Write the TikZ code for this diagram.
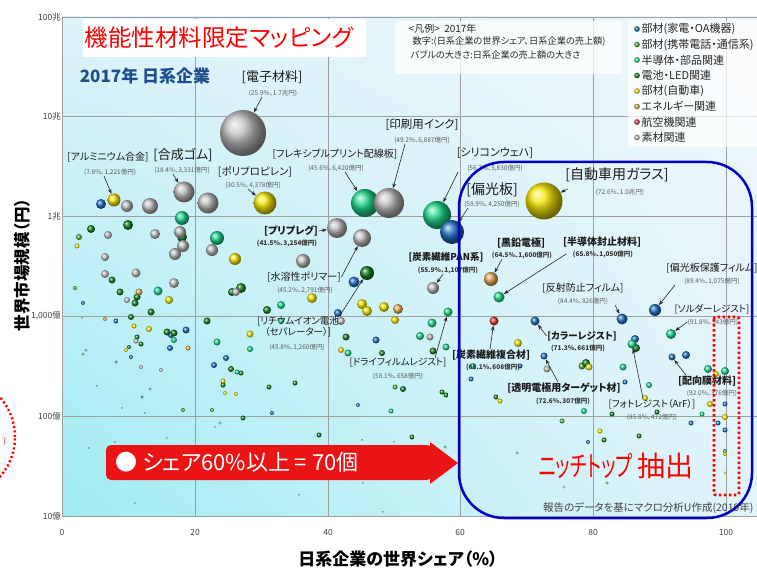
\documentclass[tikz,border=0pt]{standalone}
\usepackage{fontspec}
\setmainfont{Noto Sans CJK JP}[RawFeature=+palt]
\usetikzlibrary{arrows.meta,shadings}

\definecolor{kaden}{RGB}{30,110,190}
\definecolor{keitai}{RGB}{70,185,60}
\definecolor{handou}{RGB}{30,215,140}
\definecolor{denchi}{RGB}{20,125,30}
\definecolor{jidou}{RGB}{245,230,0}
\definecolor{energy}{RGB}{225,170,85}
\definecolor{koukuu}{RGB}{230,50,50}
\definecolor{sozai}{RGB}{190,190,190}
\definecolor{nicheblue}{RGB}{0,0,200}
\definecolor{arrowred}{RGB}{235,20,20}
\definecolor{yearblue}{RGB}{31,78,140}
\definecolor{bgll}{RGB}{160,236,243}
\definecolor{bgul}{RGB}{222,242,250}
\definecolor{bglr}{RGB}{226,244,250}
\definecolor{bgur}{RGB}{238,247,252}

\tikzset{
  lab/.style={inner sep=0.5pt, text=black!90, font=\fontsize{#1}{#1}\selectfont},
  labb/.style={inner sep=0.5pt, text=black!90, font=\fontsize{#1}{#1}\selectfont\bfseries},
  num/.style={inner sep=0.5pt, text=black!65, font=\fontsize{6.5}{7}\selectfont},
  numb/.style={inner sep=0.5pt, text=black!80, font=\fontsize{6.5}{7}\selectfont\bfseries},
  arr/.style={-{Stealth[length=5pt,width=3.6pt]}, line width=0.6pt, black!85},
  bub/.style={circle, inner sep=0pt, minimum size=#1},
  grid line/.style={gray!75, line width=0.7pt},
  tick label/.style={inner sep=1pt, fill=white, text=black!75, font=\fontsize{8.5}{9}\selectfont},
  legend text/.style={inner sep=0.5pt, text=black!85, font=\fontsize{11}{11}\selectfont}
}

\begin{document}
\begin{tikzpicture}[x=1pt,y=-1pt]
\useasboundingbox (0,0) rectangle (757,569);
\fill[white] (0,0) rectangle (757,569);

% plot area
\shade[upper left=bgul, upper right=bgur, lower left=bgll, lower right=bglr] (62,17) rectangle (757,516);
\foreach \gx in {62,195,328,460,593,726}
  \draw[grid line] (\gx,17) -- (\gx,516);
\foreach \gy in {17,116,216,316,416,516}
  \draw[grid line] (62,\gy) -- (757,\gy);
\foreach \gy/\lab in {17/100兆,116/10兆,216/1兆,316/{1,000億},416/100億,516/10億}
  \node[tick label, anchor=east] (yt\gy) at (62,\gy) {\lab};
\foreach \gx/\lab in {62/0,195/20,328/40,460/60,593/80,726/100}
  \node[tick label, fill=none] (xt\gx) at (\gx,532) {\lab};
\node[rotate=90, font=\bfseries\fontsize{16.5}{17}\selectfont] (ytitle) at (22,265) {世界市場規模（円）};
\node[font=\bfseries\fontsize{17}{17}\selectfont] (xtitle) at (398,559) {日系企業の世界シェア（\%）};

% small bubbles
\foreach \x/\y/\r in {83/303/2,116/321/2.5,171/335/3,186/330/3.5,170/348/3,131/357/2,142/397/1.5,226/358/3,214/365/3,101/204/5,354/282/5.5,338/313/4,376/340/3.5,272/413/2,358/405/2,471/379/2.5,520/366/2.5,635/339/4,625/382/2.5,686/355/4,691/423/2.5,725/404/2.5,718/423/2.5,725/430/2.5,588/442/2}
  \shade[ball color=kaden] (\x,\y) circle[radius=\r pt];
\foreach \x/\y/\r in {79/237/3,75/288/2,86/350/1.5,83/354/1.5,150/389/1.5,183/410/2,212/410/2,562/421/2.5,517/453/1.5,607/483/1.5,725/451/2,582/366/3.5,395/387/2.5,97/386/1,122/408/1,145/413/1,142/398/1,167/438/1,115/442/1,89/448/1,135/503/1,299/495/1,362/440/1,363/483/1,383/512/1,394/442/1,445/447/1.5,215/427/1}
  \shade[ball color=keitai] (\x,\y) circle[radius=\r pt];
\foreach \x/\y/\r in {182/218/7,217/238/7,158/291/4.5,174/340/3,281/305/4,281/321/3,250/349/3,217/342/3.5,237/372/2.5,420/336/4,432/323/4.5,446/347/3.5,348/353/3.5,473/366/3,649/385/3,708/369/4,725/371/4,584/411/3,702/414/2.5,391/411/2.5,220/423/1.5,623/367/3.5}
  \shade[ball color=handou] (\x,\y) circle[radius=\r pt];
\foreach \x/\y/\r in {91/229/4,128/225/5,182/237/5,112/280/3.5,120/292/3.5,137/297/3.5,135/303/3.5,151/312/3.5,131/317/3,167/332/3.5,174/333/3.5,137/337/2.5,141/344/2.5,129/347/2,116/362/1.5,207/321/3.5,241/288/5,232/292/4,231/369/3,241/373/2.5,223/385/2.5,267/310/4,346/337/3.5,382/353/3,403/389/3,433/351/3.5,636/348/4,586/363/4,496/397/2.5,612/414/2.5,657/412/2.5,639/436/2.5,604/440/2.5,269/387/2.5,295/383/2.5,243/418/2.5,319/435/2.5,412/437/2.5,442/392/2.5,446/395/2.5}
  \shade[ball color=denchi] (\x,\y) circle[radius=\r pt];
\foreach \x/\y/\r in {77/246/2.5,169/300/4,134/326/2.5,149/329/3,126/350/2,235/259/6,250/334/3.5,223/381/2.5,225/393/2,236/394/2,312/298/5,362/304/5,367/311/5,384/307/5,395/320/4,341/350/3,518/343/4,589/367/3.5,500/401/2.5,600/431/2.5,710/404/3,716/374/3,725/417/3,725/454/2,725/473/1.5,645/398/3}
  \shade[ball color=jidou] (\x,\y) circle[radius=\r pt];
\foreach \x/\y/\r in {139/292/3.5,105/319/2,188/348/2.5,398/309/5}
  \shade[ball color=energy] (\x,\y) circle[radius=\r pt];
\foreach \x/\y/\r in {127/206/6,150/206/8,208/203/10.5,180/232/6,183/246/6,175/254/6,155/234/5,108/235/4,105/257/4,105/274/4,136/273/4.5,127/300/3,174/283/5,136/341/2.5,141/367/2,161/370/2,212/250/6,303/261/7,236/292/4,341/321/4,430/337/3.5,547/369/3.5,564/487/1.5,82/318/1}
  \shade[ball color=sozai] (\x,\y) circle[radius=\r pt];

% labelled bubbles
\node[bub=46pt, ball color=sozai] (b-denshi) at (243,133) {};
\node[bub=13pt, ball color=jidou] (b-alumi) at (114,200) {};
\node[bub=21pt, ball color=sozai] (b-gomu) at (184,192) {};
\node[bub=23pt, ball color=jidou] (b-pp) at (265,203) {};
\node[bub=28pt, ball color=handou] (b-flex) at (365,203) {};
\node[bub=30pt, ball color=sozai] (b-ink) at (389,203) {};
\node[bub=28pt, ball color=handou] (b-si) at (437,215) {};
\node[bub=24pt, ball color=kaden] (b-henkou) at (452,232) {};
\node[bub=37pt, ball color=jidou] (b-glass) at (544,201) {};
\node[bub=20pt, ball color=sozai] (b-prepreg) at (337,228) {};
\node[bub=18pt, ball color=sozai] (b-suiyou) at (362,238) {};
\node[bub=14pt, ball color=denchi] (b-li) at (367,273) {};
\node[bub=12pt, ball color=sozai] (b-pan) at (433,288) {};
\node[bub=9pt, ball color=handou] (b-dry) at (448,312) {};
\node[bub=14pt, ball color=energy] (b-kokuen) at (491,279) {};
\node[bub=11pt, ball color=handou] (b-fushi) at (499,297) {};
\node[bub=11pt, ball color=kaden] (b-hansha) at (622,319) {};
\node[bub=12pt, ball color=kaden] (b-hogo) at (655,310) {};
\node[bub=10pt, ball color=handou] (b-solder) at (671,334) {};
\node[bub=9pt, ball color=koukuu] (b-fukugou) at (494,321) {};
\node[bub=9pt, ball color=kaden] (b-color) at (535,321) {};
\node[bub=7pt, ball color=kaden] (b-touden) at (544,356) {};
\node[bub=9pt, ball color=handou] (b-photo) at (632,344) {};
\node[bub=7pt, ball color=kaden] (b-haikou) at (672,357) {};

% labels
\node[lab=13] (denshi) at (272,77) {[電子材料]};
\node[num] (denshi-n) at (273,93) {(25.9\%、1.7兆円)};
\node[lab=10] (alumi) at (108,157) {[アルミニウム合金]};
\node[num] (alumi-n) at (110,172) {(7.8\%、1,221億円)};
\node[lab=13] (gomu) at (183,155) {[合成ゴム]};
\node[num] (gomu-n) at (182,170) {(18.4\%、3,331億円)};
\node[lab=10.5] (pp) at (255,172) {[ポリプロピレン]};
\node[num] (pp-n) at (253,185) {(30.5\%、4,378億円)};
\node[lab=10] (flex) at (335,154) {[フレキシブルプリント配線板]};
\node[num] (flex-n) at (336,168) {(45.6\%、6,420億円)};
\node[lab=11.5] (ink) at (422,125) {[印刷用インク]};
\node[num] (ink-n) at (422,140) {(49.2\%、6,887億円)};
\node[lab=11] (si) at (495,153) {[シリコンウェハ]};
\node[num] (si-n) at (495,168) {(56.7\%、5,830億円)};
\node[lab=14] (henkou) at (492,190) {[偏光板]};
\node[num] (henkou-n) at (492,204) {(58.9\%、4,250億円)};
\node[lab=14] (glass) at (617,175) {[自動車用ガラス]};
\node[num] (glass-n) at (620,192) {(72.6\%、1.0兆円)};
\node[labb=10] (prepreg) at (291,231) {[プリプレグ]};
\node[numb] (prepreg-n) at (287,243) {(41.5\%、3,254億円)};
\node[lab=10] (suiyou) at (304,277) {[水溶性ポリマー]};
\node[num] (suiyou-n) at (305,290) {(45.2\%、2,791億円)};
\node[lab=9.5, align=center] (li) at (298,327) {[リチウムイオン電池\\（セパレーター）]};
\node[num] (li-n) at (297,347) {(45.8\%、1,260億円)};
\node[labb=9.5] (pan) at (446,257) {[炭素繊維PAN系]};
\node[numb] (pan-n) at (448,270) {(55.9\%、1,107億円)};
\node[lab=9.5] (dry) at (398,363) {[ドライフィルムレジスト]};
\node[num] (dry-n) at (398,376) {(58.1\%、658億円)};
\node[labb=10] (kokuen) at (521,243) {[黒鉛電極]};
\node[numb] (kokuen-n) at (522,255) {(64.5\%、1,600億円)};
\node[labb=10] (fushi) at (602,242) {[半導体封止材料]};
\node[numb] (fushi-n) at (603,254) {(65.8\%、1,050億円)};
\node[lab=10] (hansha) at (583,288) {[反射防止フィルム]};
\node[num] (hansha-n) at (583,301) {(84.4\%、826億円)};
\node[lab=10] (hogo) at (712,268) {[偏光板保護フィルム]};
\node[num] (hogo-n) at (712,281) {(89.4\%、1,075億円)};
\node[lab=9.5] (solder) at (712,309) {[ソルダーレジスト]};
\node[num] (solder-n) at (713,322) {(91.8\%、543億円)};
\node[labb=10] (fukugou) at (491,355) {[炭素繊維複合材]};
\node[numb] (fukugou-n) at (493,367) {(65.1\%、608億円)};
\node[labb=9.5] (color) at (582,336) {[カラーレジスト]};
\node[numb] (color-n) at (578,348) {(71.3\%、661億円)};
\node[labb=10] (touden) at (564,388) {[透明電極用ターゲット材]};
\node[numb] (touden-n) at (563,401) {(72.6\%、307億円)};
\node[lab=9.5] (photo) at (652,404) {[フォトレジスト（ArF）]};
\node[num] (photo-n) at (652,417) {(85.8\%、472億円)};
\node[labb=10] (haikou) at (707,381) {[配向膜材料]};
\node[num] (haikou-n) at (712,393) {(92.0\%、376億円)};

% arrows
\draw[arr] ([xshift=-11pt]denshi-n.south) -- (b-denshi);
\draw[arr] ([xshift=-6pt]alumi-n.south) -- (b-alumi);
\draw[arr] ([xshift=-9pt]gomu-n.south) -- (b-gomu);
\draw[arr] ([xshift=-5pt]pp-n.south) -- (b-pp);
\draw[arr] ([xshift=9pt]flex-n.south) -- (b-flex);
\draw[arr] ([xshift=-17pt]ink-n.south) -- (b-ink);
\draw[arr] ([xshift=-37pt]si-n.south) -- (b-si);
\draw[arr] ([xshift=-24pt]henkou-n.south) -- (b-henkou);
\draw[arr] ([xshift=3pt,yshift=-14pt]glass.west) -- (b-glass);
\draw[arr] (prepreg.east) -- (b-prepreg);
\draw[arr] (suiyou.east) -- (b-suiyou);
\draw[arr] (li.north east) -- (b-li);
\draw[arr] ([xshift=-5pt]pan-n.south) -- (b-pan);
\draw[arr] ([xshift=-12pt]dry.north east) -- (b-dry);
\draw[arr] ([xshift=-20pt]kokuen-n.south) -- (b-kokuen);
\draw[arr] ([xshift=-6pt]fushi-n.west) -- (b-fushi);
\draw[arr] ([xshift=32pt]hansha-n.south) -- (b-hansha);
\draw[arr] ([xshift=-37pt]hogo-n.south) -- (b-hogo);
\draw[arr] (solder-n.west) -- (b-solder);
\draw[arr] ([xshift=-1pt]fukugou.north) -- (b-fukugou);
\draw[arr] (color.west) -- (b-color);
\draw[arr] ([xshift=-6pt]touden.north) -- (b-touden);
\draw[arr] ([xshift=-9pt]photo.north) -- (b-photo);
\draw[arr] ([xshift=-21pt]haikou.north) -- (b-haikou);

% niche top frames
\draw[nicheblue, line width=2.5pt, rounded corners=45pt] (459,162) rectangle (752,518);
\draw[red, line width=2.8pt, dash pattern=on 2.5pt off 2.5pt, rounded corners=2pt] (714,317) rectangle (739,495);
\draw[red, line width=2.5pt, dash pattern=on 2pt off 2.5pt] (-45,437) circle[radius=60pt];
\node[text=red, font=\fontsize{8}{8}\selectfont] (edge) at (5,441) {〕};

% share arrow
\fill[arrowred, rounded corners=5pt] (106,445) rectangle (432,480);
\fill[arrowred] (430,442) -- (458,463) -- (430,484) -- cycle;
\node[anchor=west, text=white, font=\fontsize{22}{22}\selectfont] (share) at (112,462) {● シェア60\%以上 = 70個};
\node[text=red, font=\fontsize{28}{28}\selectfont] (niche) at (616,466) {\scalebox{0.66}[1]{ニッチトップ}\,抽出};
\node[anchor=east, text=black!75, font=\fontsize{10.5}{11}\selectfont] (src) at (757,508) {報告のデータを基にマクロ分析U作成(2019年)};

% title and legends
\fill[white] (83,19) rectangle (366,57);
\node[text=red, font=\fontsize{23.5}{24}\selectfont] (title) at (219,38) {機能性材料限定マッピング};
\node[text=yearblue, font=\bfseries\fontsize{17}{17}\selectfont] (year) at (145,76) {2017年 日系企業};
\fill[white, opacity=0.75] (395,21) rectangle (622,74);
\node[inner sep=0.5pt, text=black!85, font=\fontsize{10}{10}\selectfont, anchor=west] (hanrei) at (408,29) {<凡例>\ \ 2017年};
\node[inner sep=0.5pt, text=black!85, font=\fontsize{9.2}{9.5}\selectfont, anchor=west] (hanrei-a) at (412,42) {数字:(日系企業の世界シェア、日系企業の売上額)};
\node[inner sep=0.5pt, text=black!85, font=\fontsize{9.2}{9.5}\selectfont, anchor=west] (hanrei-b) at (410,55) {バブルの大きさ:日系企業の売上額の大きさ};
\fill[white, opacity=0.75] (628,20) rectangle (757,147);
\foreach \i/\c/\t in {0/kaden/部材(家電・OA機器),1/keitai/部材(携帯電話・通信系),2/handou/半導体・部品関連,3/denchi/電池・LED関連,4/jidou/部材(自動車),5/energy/エネルギー関連,6/koukuu/航空機関連,7/sozai/素材関連}{
  \shade[ball color=\c] (637,{29+15.5*\i}) circle[radius=2.8pt];
  \node[legend text, anchor=west] (leg\i) at (641,{29+15.5*\i}) {\t};
}
\end{tikzpicture}
\end{document}
